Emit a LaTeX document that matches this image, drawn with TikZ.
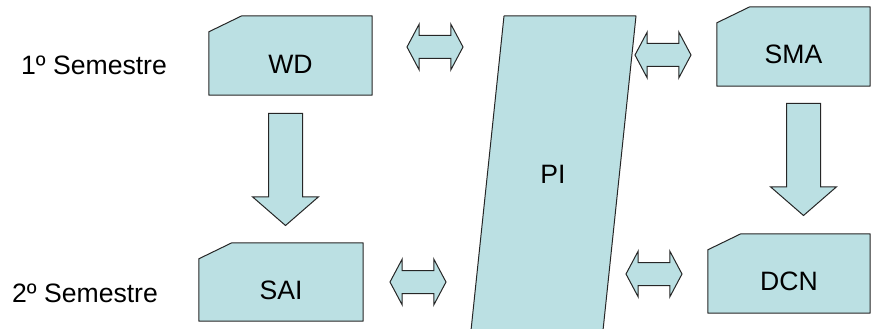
\documentclass[tikz,border=0pt]{standalone}
\usepackage{fontspec}
\setmainfont{Liberation Sans}
\usetikzlibrary{shapes.arrows,backgrounds}
\definecolor{boxfill}{RGB}{187,224,227}
\tikzset{
  txt/.style={font=\fontsize{26.6}{32}\selectfont, inner sep=0pt},
  box/.style={rectangle, draw=none, inner sep=0pt},
  chamfer/.style={fill=boxfill, draw=black!85, line width=1pt, line join=round},
  twoway/.style={double arrow, fill=boxfill, draw=black!85, line width=1pt,
    inner xsep=0pt, inner ysep=11pt, minimum height=56pt,
    double arrow head extend=11.5pt, double arrow tip angle=124},
  downarrow/.style={single arrow, rotate=-90, anchor=tail, fill=boxfill,
    draw=black!85, line width=1pt, inner xsep=0pt, inner ysep=16.5pt,
    minimum height=112pt, single arrow head extend=16pt, single arrow tip angle=98}
}
\begin{document}
\begin{tikzpicture}[x=1pt,y=-1pt]
\useasboundingbox (0,0) rectangle (871,329);
% Semester labels
\node[txt,anchor=west] (sem1) at (21,65) {1º Semestre};
\node[txt,anchor=west] (sem2) at (12,293) {2º Semestre};
% Boxes
\node[box,minimum width=163pt,minimum height=79pt,label={[txt,yshift=-9pt]center:WD}] (wd) at (290.5,55.5) {};
\node[box,minimum width=153pt,minimum height=79pt,label={[txt,yshift=-8pt]center:SMA}] (sma) at (793.5,46.5) {};
\node[box,minimum width=164pt,minimum height=78pt,label={[txt,yshift=-8pt]center:SAI}] (sai) at (281,282) {};
\node[box,minimum width=162pt,minimum height=79pt,label={[txt,yshift=-8pt]center:DCN}] (dcn) at (789,273.5) {};
\begin{scope}[on background layer]
\foreach \b in {wd,sma,sai,dcn}
  \draw[chamfer] ([yshift=-16pt]\b.north west) -- ([xshift=33pt]\b.north west)
    -- (\b.north east) -- (\b.south east) -- (\b.south west) -- cycle;
\end{scope}
% PI (runs off the bottom)
\begin{scope}
\clip (0,0) rectangle (871,329);
\draw[chamfer] (504,16) -- (636,16) -- (602,340) -- (470,340) -- cycle;
\end{scope}
\node[txt] (pi) at (553,174) {PI};
% Arrows
\node[twoway] (wdpi) at (435,47) {};
\node[twoway] (pisma) at (663,55) {};
\node[twoway] (saipi) at (418,282) {};
\node[twoway] (pidcn) at (654,274) {};
\node[downarrow] (wdsai) at (285.5,113) {};
\node[downarrow] (smadcn) at (803.5,103) {};
\end{tikzpicture}
\end{document}
